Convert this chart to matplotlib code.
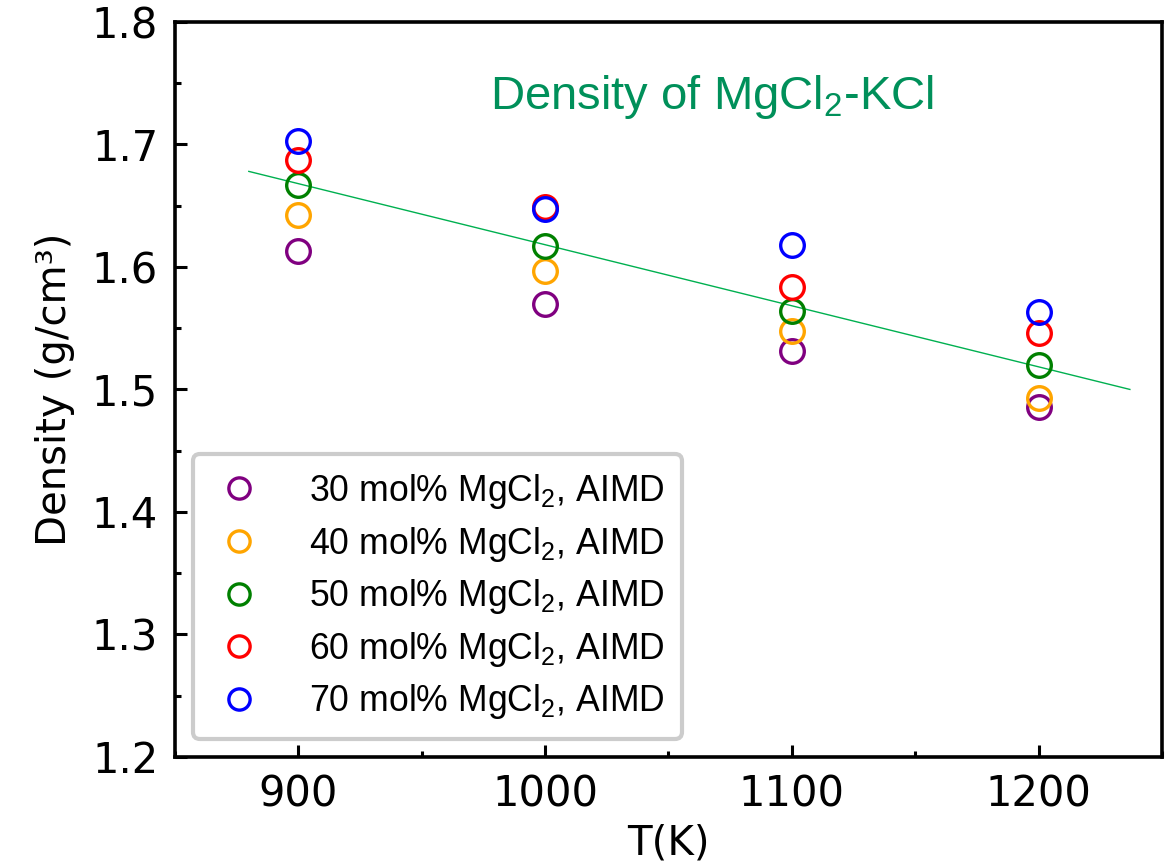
import matplotlib
matplotlib.use("Agg")
import matplotlib.pyplot as plt
from matplotlib.ticker import MultipleLocator

plt.rcParams['mathtext.fontset'] = 'custom'
plt.rcParams['mathtext.rm'] = 'Liberation Sans'
plt.rcParams['mathtext.it'] = 'Liberation Sans:italic'

temps = [900, 1000, 1100, 1200]
series_labels = ["30 mol% MgCl$_2$, AIMD", "40 mol% MgCl$_2$, AIMD", "50 mol% MgCl$_2$, AIMD",
                 "60 mol% MgCl$_2$, AIMD", "70 mol% MgCl$_2$, AIMD"]
series_colors = ["purple", "orange", "green", "red", "blue"]
d30 = [1.613, 1.570, 1.531, 1.486]
d40 = [1.642, 1.597, 1.548, 1.493]
d50 = [1.667, 1.617, 1.564, 1.520]
d60 = [1.687, 1.649, 1.584, 1.546]
d70 = [1.703, 1.647, 1.618, 1.563]
series_values = [d30, d40, d50, d60, d70]
fit_T = [880, 1237]
fit_d = [1.678, 1.500]

fig = plt.figure(figsize=(11.73, 8.68), dpi=100)
ax = fig.add_axes([0.149, 0.128, 0.8416, 0.8467])

ax.plot(fit_T, fit_d, color='#00b050', lw=1.0, zorder=1)
for vals, col, lab in zip(series_values, series_colors, series_labels):
    ax.plot(temps, vals, 'o', mfc='none', mec=col, mew=2.4, ms=17, label=lab, zorder=3)

ax.set_xlim(850, 1250)
ax.set_ylim(1.2, 1.8)
ax.xaxis.set_major_locator(MultipleLocator(100))
ax.xaxis.set_minor_locator(MultipleLocator(50))
ax.yaxis.set_major_locator(MultipleLocator(0.1))
ax.yaxis.set_minor_locator(MultipleLocator(0.05))
ax.tick_params(which='both', direction='in', width=2.2, labelsize=30, top=False, right=False)
ax.tick_params(which='major', length=8.5, pad=12)
ax.tick_params(which='minor', length=4.5)
for s in ax.spines.values():
    s.set_linewidth(2.6)

ax.set_xlabel('T(K)', fontsize=29, labelpad=6)
ax.set_ylabel('Density (g/cm³)', fontsize=29, labelpad=12)

ax.text(0.544, 0.898, 'Density of MgCl$_2$-KCl', transform=ax.transAxes, ha='center', va='center',
        fontsize=34, color='#00905a', family='Liberation Sans')

leg = ax.legend(loc='lower left', prop={'family': 'Liberation Sans', 'size': 25.7}, frameon=True,
                fancybox=True, edgecolor='#cccccc', borderaxespad=0.5, handlelength=1.6,
                handletextpad=1.15, labelspacing=0.38, borderpad=0.5, markerscale=0.9)
leg.get_frame().set_linewidth(3)
leg.get_frame().set_alpha(1)

fig.savefig('out.png', dpi=100)
